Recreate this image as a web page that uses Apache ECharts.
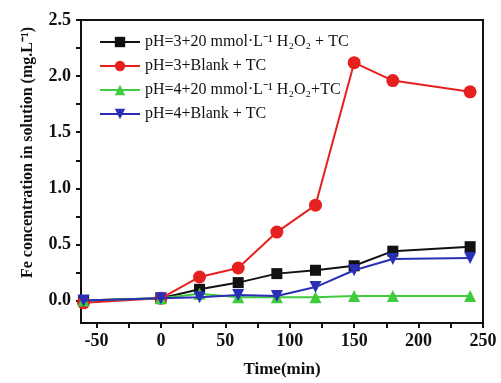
<!DOCTYPE html>
<html><head><meta charset="utf-8">
<script src="https://cdn.jsdelivr.net/npm/echarts@6/dist/echarts.min.js"></script>
<style>html,body{margin:0;padding:0;background:#fff}#c{width:501px;height:383px}</style>
</head><body><div id="c"></div>
<script>
const times = [-60, 0, 30, 60, 90, 120, 150, 180, 240];
const ph3H2O2 = [0.00, 0.02, 0.10, 0.16, 0.24, 0.27, 0.31, 0.44, 0.48];
const ph3Blank = [-0.02, 0.02, 0.21, 0.29, 0.61, 0.85, 2.12, 1.96, 1.86];
const ph4H2O2 = [0.00, 0.02, 0.06, 0.03, 0.03, 0.03, 0.04, 0.04, 0.04];
const ph4Blank = [0.00, 0.02, 0.03, 0.05, 0.04, 0.12, 0.27, 0.37, 0.38];
const xTickLabels = [-50, 0, 50, 100, 150, 200, 250];
const xTicks = [-50, -25, 0, 25, 50, 75, 100, 125, 150, 175, 200, 225, 250];
const yTickLabels = [0, 0.5, 1.0, 1.5, 2.0, 2.5];
const yTicks = [0, 0.25, 0.5, 0.75, 1.0, 1.25, 1.5, 1.75, 2.0, 2.25, 2.5];
const names = [
  'pH=3+20 mmol·L\u207B\u00B9 H\u2082O\u2082 + TC',
  'pH=3+Blank + TC',
  'pH=4+20 mmol·L\u207B\u00B9 H\u2082O\u2082+TC',
  'pH=4+Blank + TC'
];
const colors = ['#111111', '#e5201f', '#3fcc3f', '#2b2fb5'];
const symbols = ['rect', 'circle', 'triangle', 'path://M0,0 L10,0 L5,9 Z'];
const sizes = [11, 13, 12, 12];
const vals = [ph3H2O2, ph3Blank, ph4H2O2, ph4Blank];
const font = 'Liberation Serif';
const chart = echarts.init(document.getElementById('c'));
chart.setOption({
  animation: false,
  grid: {left: 81, right: 18, top: 20, bottom: 59, show: true, borderColor: '#111', borderWidth: 2, backgroundColor: 'transparent'},
  legend: {
    left: 94, top: 29, orient: 'vertical', itemGap: 8, itemWidth: 40, itemHeight: 13,
    textStyle: {fontFamily: font, fontSize: 16, color: '#111'},
    data: names
  },
  xAxis: {
    type: 'value', min: -62, max: 250,
    name: 'Time(min)', nameLocation: 'middle', nameGap: 38,
    nameTextStyle: {fontFamily: font, fontWeight: 'bold', fontSize: 17, color: '#111'},
    axisLine: {onZero: false, lineStyle: {color: '#111', width: 2}},
    axisTick: {show: true, inside: false, length: 5, lineStyle: {color: '#111', width: 2}, customValues: xTicks},
    axisLabel: {fontFamily: font, fontWeight: 'bold', fontSize: 18, color: '#111', margin: 9, customValues: xTickLabels},
    splitLine: {show: false}
  },
  yAxis: {
    type: 'value', min: -0.2, max: 2.5,
    name: 'Fe concentration in solution (mg.L\u207B\u00B9)', nameLocation: 'middle', nameGap: 45,
    nameTextStyle: {fontFamily: font, fontWeight: 'bold', fontSize: 16, color: '#111', padding: [0, 0, 0, 38]},
    axisLine: {onZero: false, lineStyle: {color: '#111', width: 2}},
    axisTick: {show: true, inside: false, length: 5, lineStyle: {color: '#111', width: 2}, customValues: yTicks},
    axisLabel: {fontFamily: font, fontWeight: 'bold', fontSize: 18, color: '#111', margin: 10,
      customValues: yTickLabels, formatter: v => v.toFixed(1)},
    splitLine: {show: false}
  },
  series: names.map((n, i) => ({
    name: n, type: 'line',
    data: times.map((t, j) => [t, vals[i][j]]),
    symbol: symbols[i], symbolSize: sizes[i], showAllSymbol: true,
    lineStyle: {color: colors[i], width: 2},
    itemStyle: {color: colors[i]},
    z: 2 + (i === 3 ? 3 : i === 2 ? 1 : i)
  }))
});
</script></body></html>
